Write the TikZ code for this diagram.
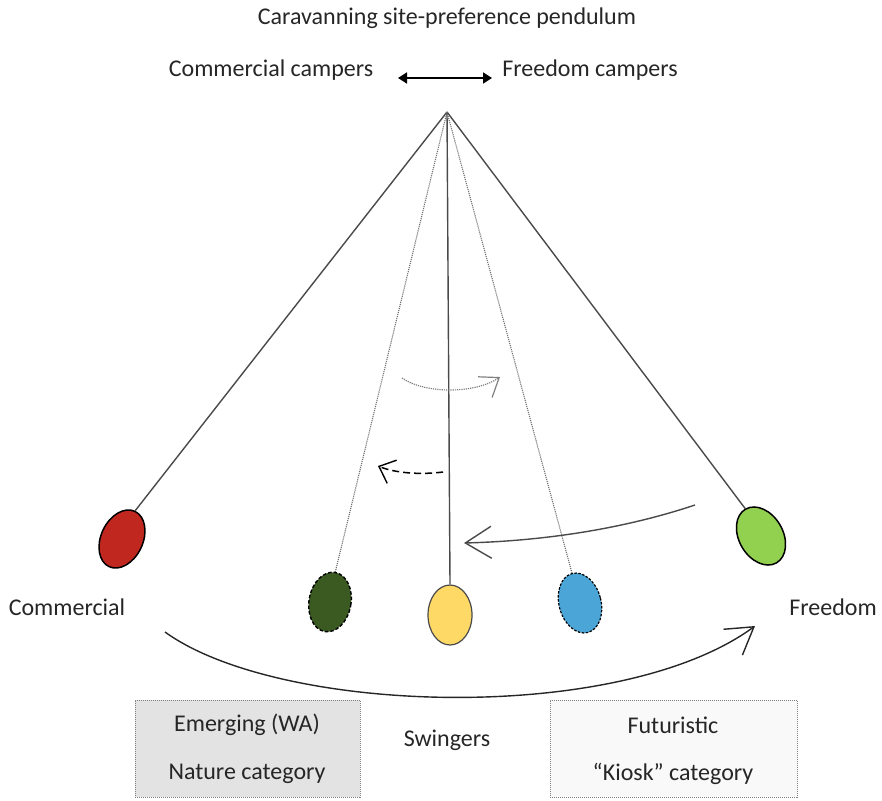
\documentclass[tikz,border=0pt]{standalone}
\usepackage{fontspec}
\setmainfont{Carlito}
\usetikzlibrary{shapes.geometric,arrows.meta}
\definecolor{txt}{HTML}{262626}
\definecolor{strcol}{HTML}{4A4A4A}
\definecolor{bobred}{HTML}{C0271E}
\definecolor{bobgreen}{HTML}{92D050}
\definecolor{bobdark}{HTML}{3A5A22}
\definecolor{bobyellow}{HTML}{FFD966}
\definecolor{bobblue}{HTML}{4BA5D6}
\definecolor{boxgray}{HTML}{E3E3E3}
\definecolor{boxlight}{HTML}{F9F9F9}
\begin{document}
\begin{tikzpicture}[x=1pt,y=-1pt,
  lbl/.style={text=txt,font=\fontsize{24}{28}\selectfont,inner sep=0pt},
  bob/.style={ellipse,draw=black,line width=1.5pt,inner sep=0pt,minimum width=42pt,minimum height=61pt},
  ghost/.style={bob,dashed,line width=1.4pt,dash pattern=on 3.5pt off 2pt},
  rod/.style={draw=strcol,line width=1.4pt},
  ghostrod/.style={draw=strcol!80,line width=1.1pt,densely dotted},
  swing/.style={line width=1.4pt,-{Straight Barb[length=26pt,width=32pt,line width=1.4pt]}},
  catbox/.style={rectangle,draw=gray,line width=1pt,densely dotted,minimum width=225pt,minimum height=97pt,inner sep=0pt}
]
\useasboundingbox (0,0) rectangle (882,800);

% headings
\node[lbl] (title) at (447,18) {Caravanning site-preference pendulum};
\node[lbl] (commC) at (271,70) {Commercial campers};
\node[lbl] (freeC) at (590,70) {Freedom campers};
\coordinate (hl) at (398,78);
\coordinate (hr) at (492,78);
\draw[line width=1.8pt,{Triangle[length=9pt,width=11pt]}-{Triangle[length=9pt,width=11pt]}] (hl) -- (hr);

% pivot and bobs
\coordinate (pivot) at (447,112);
\node[bob,fill=bobred,rotate=-25] (red) at (122,539) {};
\node[bob,fill=bobgreen,rotate=30,minimum width=44pt,minimum height=62pt] (green) at (761,536) {};
\node[ghost,fill=bobdark,rotate=-10,minimum height=60pt] (dark) at (330,602) {};
\node[bob,fill=bobyellow,draw=strcol,line width=1.2pt,minimum width=44pt,minimum height=60pt] (yellow) at (450,615) {};
\node[ghost,fill=bobblue,rotate=15,line width=1.2pt,dash pattern=on 2.5pt off 1.5pt] (blue) at (580,603) {};

% rods
\draw[rod] (pivot) -- (red.north);
\draw[rod] (pivot) -- (green.north);
\draw[rod] (pivot) -- (yellow.north);
\draw[ghostrod] (pivot) -- (dark.north);
\draw[ghostrod] (pivot) -- (blue.north);

% swing arrows
\coordinate (dotA) at (402,378);
\coordinate (dotB) at (500,377);
\draw[draw=gray,line width=1.2pt,densely dotted,-{Straight Barb[length=17pt,width=25pt,line width=1.2pt]}]
  (dotA) .. controls (425,394) and (475,394) .. (dotB);
\coordinate (dashA) at (443,472);
\coordinate (dashB) at (378,466);
\draw[black,line width=1.5pt,dash pattern=on 7pt off 4pt,-{Straight Barb[length=14pt,width=25pt,line width=1.4pt]}]
  (dashA) .. controls (420,475) and (395,473) .. (dashB);
\coordinate (backA) at (695,505);
\coordinate (backB) at (464,543);
\draw[swing,draw=strcol] (backA) .. controls (620,530) and (540,541) .. (backB);
\coordinate (arcA) at (165,632);
\coordinate (arcB) at (755,626);
\draw[swing,draw=txt] (arcA) .. controls (280,715) and (620,725) .. (arcB);

% side labels
\node[lbl] (commL) at (67,607) {Commercial};
\node[lbl] (freeL) at (833,607) {Freedom};
\node[lbl] (swing) at (447,740) {Swingers};

% category boxes
\node[catbox,fill=boxgray] (emerg) at (247.5,748.5) {};
\node[lbl] at (247,725) {Emerging (WA)};
\node[lbl] at (247,774) {Nature category};
\node[catbox,fill=boxlight,minimum width=247pt] (futur) at (673.5,748.5) {};
\node[lbl] at (673,725) {Futuristic};
\node[lbl] at (673,774) {“Kiosk” category};
\end{tikzpicture}
\end{document}
